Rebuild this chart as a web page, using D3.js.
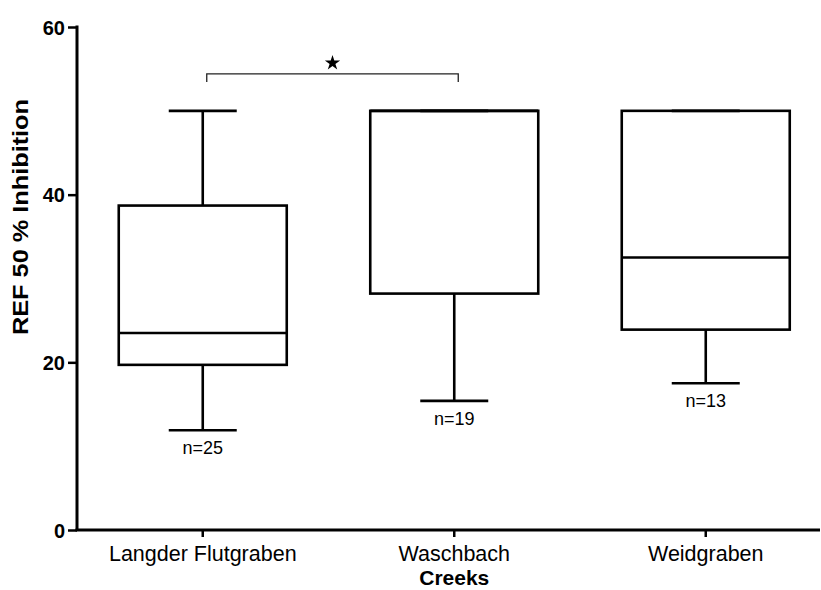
<!DOCTYPE html>
<html>
<head>
<meta charset="utf-8">
<script src="https://cdn.jsdelivr.net/npm/d3@7"></script>
<style>
  body { margin: 0; background: #fff; }
  svg { display: block; font-family: "Liberation Sans", Arial, sans-serif; }
</style>
</head>
<body>
<svg width="821" height="590"></svg>
<script>
// box plot values
var categories = ["Langder Flutgraben", "Waschbach", "Weidgraben"];
var mins    = [11.9, 15.4, 17.5];
var q1s     = [19.7, 28.2, 23.9];
var medians = [23.5, 50, 32.5];
var q3s     = [38.7, 50, 50];
var maxs    = [50, 50, 50];
var nLabels = ["n=25", "n=19", "n=13"];
var yTicks  = [0, 20, 40, 60];
// significance bracket between first two creeks
var sigPair = ["Langder Flutgraben", "Waschbach"];
var sigLevel = 54.4;

var svg = d3.select("svg");

var y = d3.scaleLinear().domain([0, 60]).range([530, 27]);
var x = d3.scaleBand().domain(categories).range([77, 831.5]);

var boxes = categories.map(function(c, i) {
  return {name: c, min: mins[i], q1: q1s[i], med: medians[i], q3: q3s[i], max: maxs[i], n: nLabels[i]};
});

var boxW = 168, capW = 68;

var g = svg.selectAll("g.box")
  .data(boxes)
  .enter()
  .append("g")
  .attr("class", "box")
  .attr("transform", function(d) { return "translate(" + (x(d.name) + x.bandwidth() / 2) + ",0)"; })
  .style("stroke", "#000")
  .style("stroke-width", "2.6px")
  .style("fill", "none");

// whiskers
g.append("line").attr("x1", 0).attr("x2", 0)
  .attr("y1", function(d) { return y(d.q3); })
  .attr("y2", function(d) { return y(d.max); });
g.append("line").attr("x1", 0).attr("x2", 0)
  .attr("y1", function(d) { return y(d.q1); })
  .attr("y2", function(d) { return y(d.min); });
g.append("line").attr("x1", -capW / 2).attr("x2", capW / 2)
  .attr("y1", function(d) { return y(d.max); })
  .attr("y2", function(d) { return y(d.max); });
g.append("line").attr("x1", -capW / 2).attr("x2", capW / 2)
  .attr("y1", function(d) { return y(d.min); })
  .attr("y2", function(d) { return y(d.min); });

// box and median
g.append("rect")
  .attr("x", -boxW / 2)
  .attr("width", boxW)
  .attr("y", function(d) { return y(d.q3); })
  .attr("height", function(d) { return y(d.q1) - y(d.q3); });
g.append("line").attr("x1", -boxW / 2).attr("x2", boxW / 2)
  .attr("y1", function(d) { return y(d.med); })
  .attr("y2", function(d) { return y(d.med); });

// n labels
g.append("text")
  .attr("y", function(d) { return y(d.min) + 24; })
  .attr("text-anchor", "middle")
  .style("stroke", "none")
  .style("fill", "#000")
  .style("font-size", "18px")
  .text(function(d) { return d.n; });

// y axis
var yAxis = svg.append("g")
  .attr("transform", "translate(77,0)")
  .call(d3.axisLeft(y).tickValues(yTicks).tickSize(9).tickSizeOuter(0).tickPadding(3));
yAxis.select(".domain").attr("stroke-width", 3).attr("d", "M0," + (y(60) - 1.5) + "V" + y(0));
yAxis.selectAll(".tick line").attr("stroke-width", 2.5);
yAxis.selectAll(".tick text")
  .style("font-family", "'Liberation Sans', Arial, sans-serif")
  .style("font-size", "20px")
  .style("font-weight", "bold")
  .attr("dy", "0.36em");

// x axis
var xAxis = svg.append("g")
  .attr("transform", "translate(0,530)")
  .call(d3.axisBottom(x).tickSize(7).tickSizeOuter(0).tickPadding(6));
xAxis.select(".domain").attr("stroke-width", 3).attr("d", "M75.5,0H820");
xAxis.selectAll(".tick line").attr("stroke-width", 2.5);
xAxis.selectAll(".tick text")
  .style("font-family", "'Liberation Sans', Arial, sans-serif")
  .style("font-size", "21.5px")
  .attr("dy", "0.82em");

// axis titles
svg.append("text")
  .attr("transform", "translate(28,217) rotate(-90)")
  .attr("text-anchor", "middle")
  .style("font-size", "22px")
  .style("font-weight", "bold")
  .attr("textLength", 236)
  .attr("lengthAdjust", "spacingAndGlyphs")
  .text("REF 50 % Inhibition");

svg.append("text")
  .attr("x", x("Waschbach") + x.bandwidth() / 2)
  .attr("y", 585)
  .attr("text-anchor", "middle")
  .style("font-size", "21px")
  .style("font-weight", "bold")
  .text("Creeks");

// significance bracket and star
var bx1 = x(sigPair[0]) + x.bandwidth() / 2 + 4;
var bx2 = x(sigPair[1]) + x.bandwidth() / 2 + 4;
var by = y(sigLevel);
svg.append("path")
  .attr("d", "M" + bx1 + "," + (by + 8) + "V" + by + "H" + bx2 + "V" + (by + 8))
  .style("fill", "none")
  .style("stroke", "#222")
  .style("stroke-width", "1.3px");
svg.append("path")
  .attr("d", d3.symbol().type(d3.symbolStar).size(72)())
  .attr("transform", "translate(" + ((bx1 + bx2) / 2) + "," + (by - 11) + ")")
  .style("fill", "#000");
</script>
</body>
</html>
